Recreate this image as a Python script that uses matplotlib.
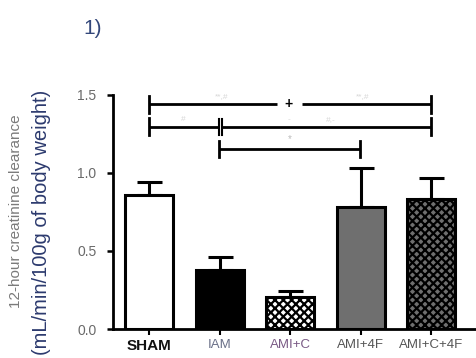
import matplotlib
matplotlib.use("Agg")
import matplotlib.pyplot as plt
import numpy as np

plt.rcParams['font.family'] = ['Liberation Sans', 'DejaVu Sans']
plt.rcParams['hatch.linewidth'] = 1.6

groups = ["SHAM", "IAM", "AMI+C", "AMI+4F", "AMI+C+4F"]
means = [0.86, 0.38, 0.205, 0.78, 0.83]
sems = [0.08, 0.08, 0.04, 0.25, 0.14]
face_colors = ["white", "black", "white", "#6f6f6f", "#6f6f6f"]
hatches = [None, None, "xxxx", None, "xxxx"]
label_colors = ["#111111", "#6a7088", "#7a5a85", "#555555", "#555555"]
yticks = [0.0, 0.5, 1.0, 1.5]

fig = plt.figure(figsize=(4.77, 3.58), dpi=100)
ax = fig.add_axes([0.237, 0.081, 0.759, 0.654])

x = np.arange(len(groups))
for i in x:
    ax.bar(i, means[i], width=0.68, color=face_colors[i], edgecolor="black",
           linewidth=2.2, hatch=hatches[i], zorder=2)
ax.errorbar(x, means, yerr=[np.zeros(len(sems)), sems], fmt="none",
            ecolor="black", elinewidth=2.2, capsize=9, capthick=2.2, zorder=1)

ax.set_xlim(-0.51, 4.62)
ax.set_ylim(0, 1.5)
ax.set_yticks(yticks)
ax.set_yticklabels([f"{v:.1f}" for v in yticks], color="#6a6a6a", fontsize=10)
ax.set_xticks(x)
ax.set_xticklabels(groups)
for lbl, c, g in zip(ax.get_xticklabels(), label_colors, groups):
    lbl.set_color(c)
    if g == "SHAM":
        lbl.set_fontweight("bold")
        lbl.set_fontsize(11)
    else:
        lbl.set_fontsize(9.5)
ax.tick_params(axis="y", length=4, width=1.8, pad=8)
ax.tick_params(axis="x", length=4, width=1.5, pad=3)
for s in ["top", "right"]:
    ax.spines[s].set_visible(False)
for s in ["left", "bottom"]:
    ax.spines[s].set_linewidth(2.0)

# significance brackets
lw = 2.0
def seg(x0, x1, y):
    ax.plot([x0, x1], [y, y], color="black", lw=lw, solid_capstyle="butt", clip_on=False)

def tick(xp, y, h, w=lw):
    ax.plot([xp, xp], [y - h, y + h], color="black", lw=w, clip_on=False)

y1, y2, y3 = 1.44, 1.295, 1.154
seg(0, 1.82, y1)
seg(2.17, 4, y1)
tick(0, y1, 0.055)
tick(4, y1, 0.055)
ax.text(1.98, y1, "+", ha="center", va="center", fontsize=10, fontweight="bold")

seg(0, 0.99, y2)
seg(1.04, 4, y2)
tick(0, y2, 0.055)
tick(4, y2, 0.055)
tick(0.99, y2, 0.05, 1.5)
tick(1.04, y2, 0.05, 1.5)

seg(0.99, 2.99, y3)
tick(0.99, y3, 0.05)
tick(2.99, y3, 0.05)

faint = "#d6d6d6"
ax.text(1.03, 1.49, "**,#", ha="center", va="center", fontsize=6, color=faint)
ax.text(3.02, 1.49, "**,#", ha="center", va="center", fontsize=6, color=faint)
ax.text(0.48, 1.34, "#", ha="center", va="center", fontsize=6, color=faint)
ax.text(1.99, 1.34, "-", ha="center", va="center", fontsize=6, color=faint)
ax.text(2.57, 1.34, "#,-", ha="center", va="center", fontsize=6, color=faint)
ax.text(2.0, 1.215, "*", ha="center", va="center", fontsize=7, color="#bbbbbb")

fig.text(0.034, 0.41, "12-hour creatinine clearance", rotation=90,
         ha="center", va="center", fontsize=11, color="#7a7a7a")
fig.text(0.088, 0.38, "(mL/min/100g of body weight)", rotation=90,
         ha="center", va="center", fontsize=14.5, color="#2c3a6e")
fig.text(0.195, 0.92, "1)", ha="center", va="center", fontsize=15, color="#33477a")

fig.savefig("out.png", dpi=100)
